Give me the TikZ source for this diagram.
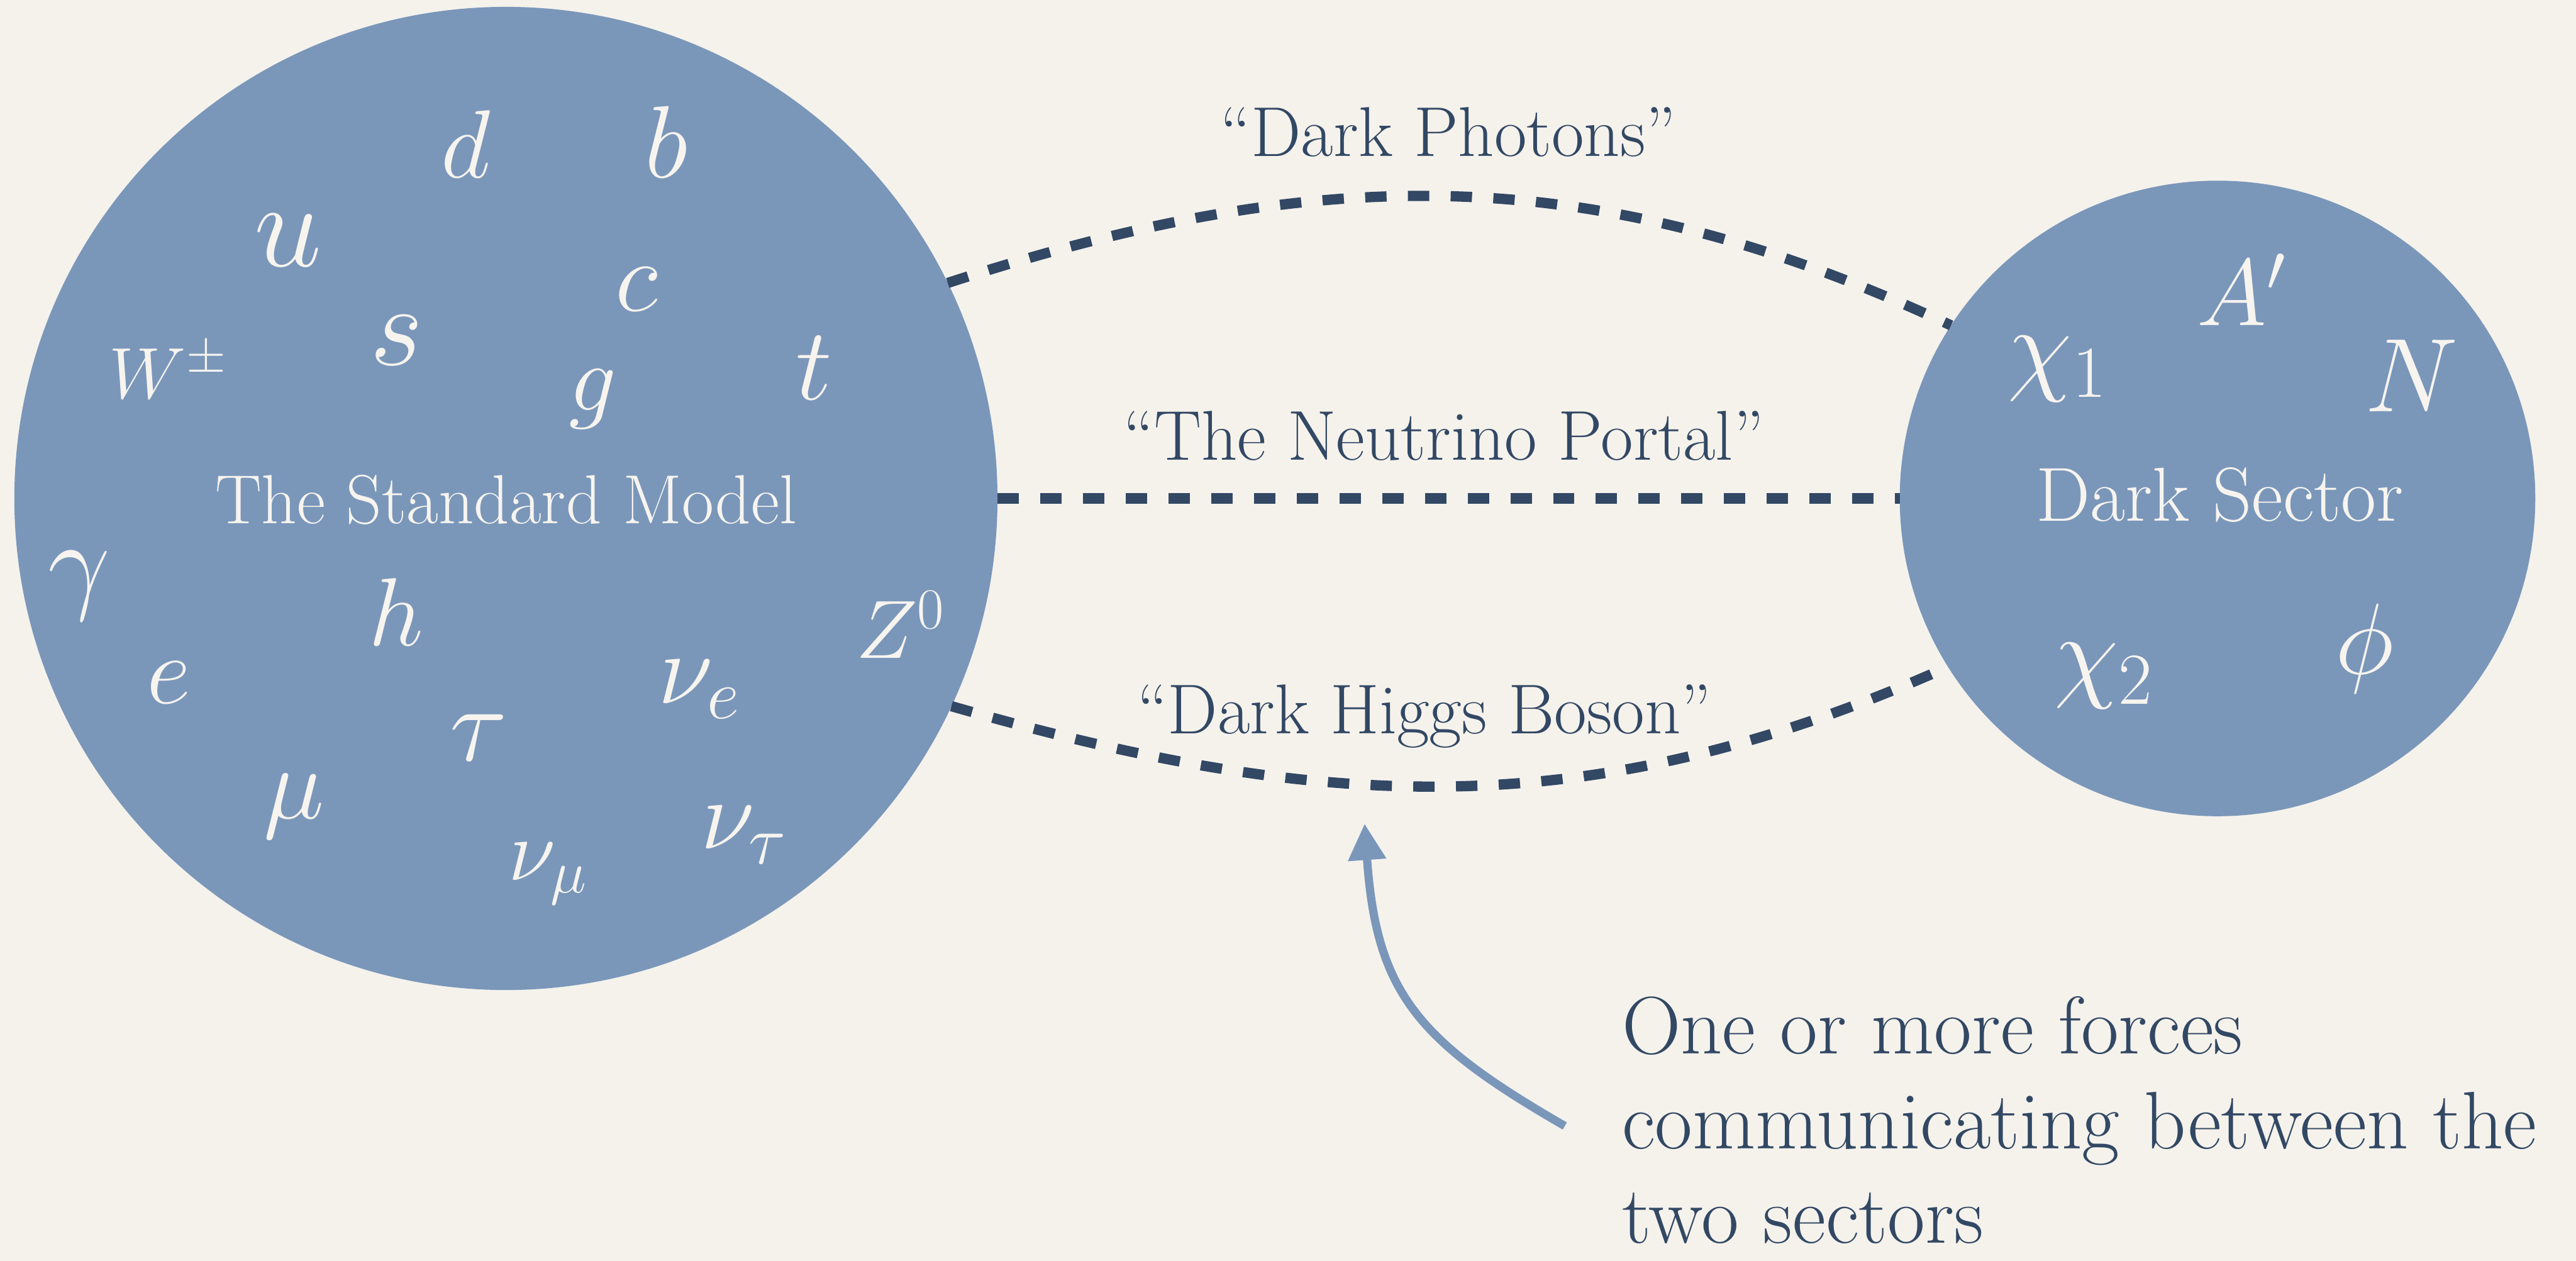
\documentclass[tikz,border=0pt]{standalone}
\usepackage{fix-cm}
\usepackage{amsmath}
\usetikzlibrary{arrows.meta}

\definecolor{paper}{HTML}{F5F2EC}
\definecolor{sectorblue}{HTML}{7A97BA}
\definecolor{inkblue}{HTML}{324864}
\definecolor{chalk}{HTML}{F7F4EF}

\newcommand{\psize}[1]{\fontsize{#1}{#1}\selectfont}

\begin{document}
\begin{tikzpicture}[
    sector/.style={circle, fill=sectorblue, inner sep=0pt, outer sep=0pt},
    particle/.style={text=chalk, anchor=base, inner sep=0pt},
    portal/.style={draw=inkblue, line width=5.1pt, dash pattern=on 10.6pt off 10.6pt},
    portaltext/.style={text=inkblue, anchor=base, inner sep=0pt, font=\psize{35}},
    pointer/.style={draw=sectorblue, line width=4.1pt, -{Triangle[width=18pt, length=18pt]}}
]
    \fill[paper] (0, 0) rectangle (44.91, 21.98);
    \useasboundingbox (0, 0) rectangle (44.91, 21.98);

    % Standard Model
    \node[sector, minimum size=17.14cm] (sm) at (8.82, 13.29) {};
    \node[particle, font=\psize{34.5}] (smname) at (8.82, 12.85) {The Standard Model};
    \node[particle, font=\psize{48}] (d) at (8.12, 18.88) {$d$};
    \node[particle, font=\psize{51}] (b) at (11.62, 18.88) {$b$};
    \node[particle, font=\psize{60}] (u) at (5.02, 17.34) {$u$};
    \node[particle, font=\psize{50}] (c) at (11.10, 16.56) {$c$};
    \node[particle, font=\psize{57}] (s) at (6.91, 15.61) {$s$};
    \node[particle, font=\psize{36}] (w) at (2.93, 15.03) {$W^\pm$};
    \node[particle, font=\psize{47}] (g) at (10.33, 14.83) {$g$};
    \node[particle, font=\psize{51}] (t) at (14.19, 15.01) {$t$};
    \node[particle, font=\psize{55}] (gamma) at (1.38, 11.54) {$\gamma$};
    \node[particle, font=\psize{48}] (h) at (6.91, 10.72) {$h$};
    \node[particle, font=\psize{41}] (z) at (15.70, 10.50) {$Z^0$};
    \node[particle, font=\psize{48}] (e) at (2.94, 9.72) {$e$};
    \node[particle, font=\psize{50}] (nue) at (12.19, 9.72) {$\nu_e$};
    \node[particle, font=\psize{53}] (tau) at (8.35, 8.72) {$\tau$};
    \node[particle, font=\psize{51}] (mu) at (5.13, 7.71) {$\mu$};
    \node[particle, font=\psize{49}] (nutau) at (12.97, 7.18) {$\nu_\tau$};
    \node[particle, font=\psize{43}] (numu) at (9.55, 6.64) {$\nu_\mu$};

    % Dark Sector
    \node[sector, minimum size=11.08cm] (ds) at (38.66, 13.29) {};
    \node[particle, font=\psize{38}] (dsname) at (38.70, 12.90) {Dark Sector};
    \node[particle, font=\psize{47}] (aprime) at (39.08, 16.31) {$A'$};
    \node[particle, font=\psize{52}] (chione) at (35.87, 15.33) {$\chi_1$};
    \node[particle, font=\psize{52}] (n) at (42.04, 14.80) {$N$};
    \node[particle, font=\psize{52}] (chitwo) at (36.68, 9.98) {$\chi_2$};
    \node[particle, font=\psize{50}] (phi) at (41.22, 10.23) {$\phi$};

    % Portals
    \draw[portal] (sm.26) to[out=18, in=155] (ds.147);
    \draw[portal] (sm.east) -- (ds.west);
    \draw[portal] (sm.-25) to[out=-16, in=-156] (ds.-148);
    \node[portaltext] (photons) at (25.25, 19.26) {``Dark Photons''};
    \node[portaltext] (neutrino) at (25.17, 13.96) {``The Neutrino Portal''};
    \node[portaltext] (higgs) at (24.83, 9.19) {``Dark Higgs Boson''};

    % Note
    \node[text=inkblue, font=\fontsize{40.5}{46.9}\selectfont, align=left, anchor=base west, inner sep=0pt] (note) at (28.27, 0.31) {One or more forces\\communicating between the\\two sectors};
    \coordinate (tail) at (27.28, 2.35);
    \coordinate (tip) at (23.79, 7.62);
    \draw[pointer] (tail) to[out=150, in=-86, looseness=1.2] (tip);
\end{tikzpicture}
\end{document}
